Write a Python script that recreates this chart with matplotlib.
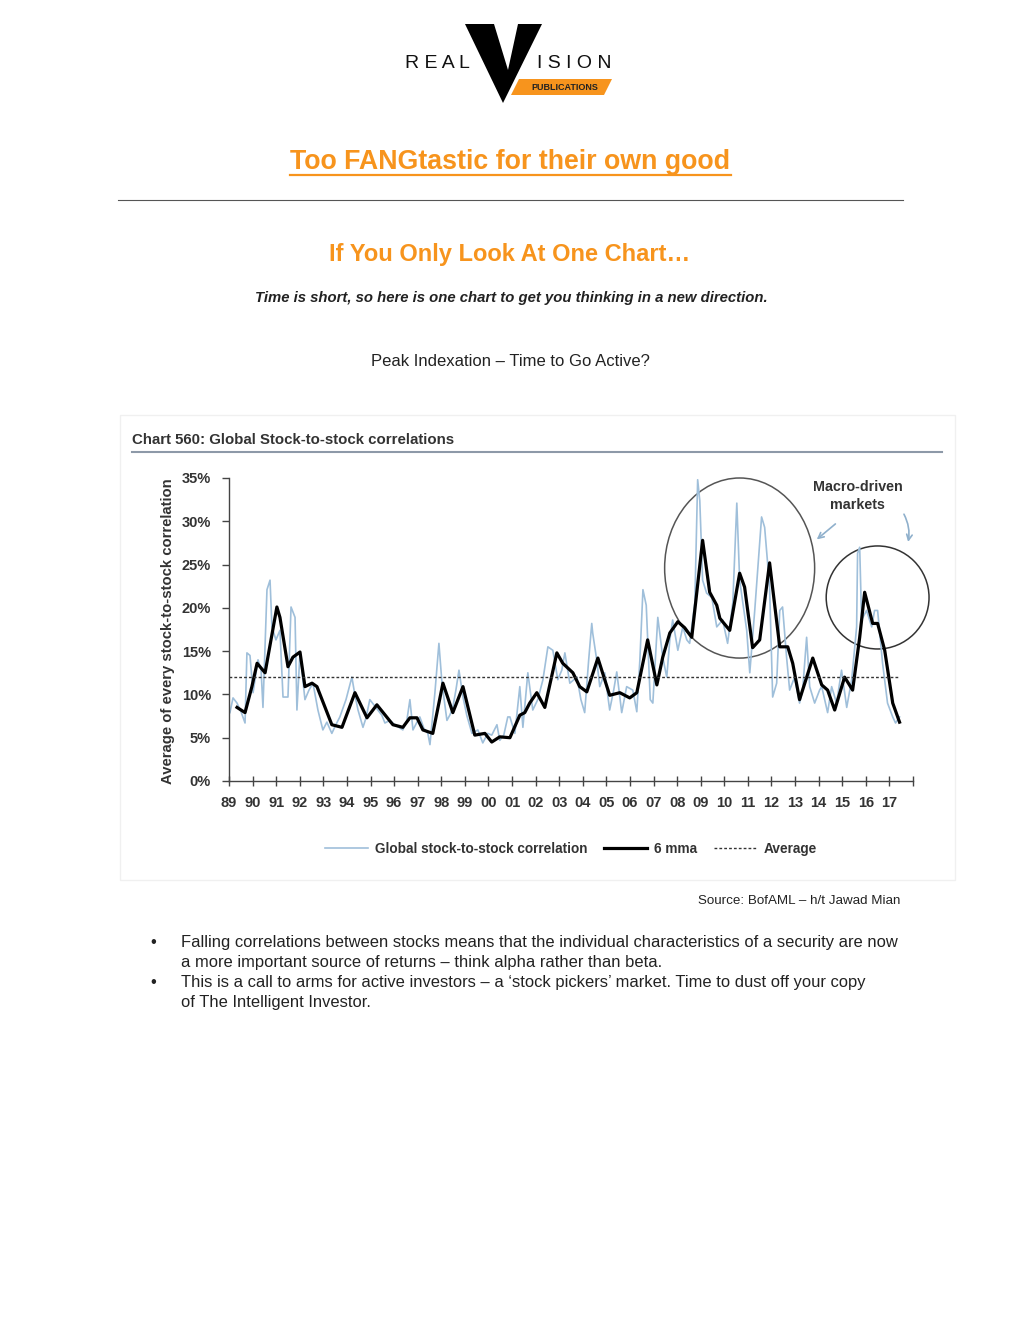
import numpy as np
import matplotlib.pyplot as plt
from matplotlib.patches import Ellipse, Polygon, Rectangle
from matplotlib.lines import Line2D

# Datos: correlacion global stock-to-stock (mensual)
anios_corr = [1989.04, 1989.17, 1989.34, 1989.51, 1989.68, 1989.76, 1989.89, 1990.02, 1990.23, 1990.36,
              1990.44, 1990.61, 1990.74, 1990.82, 1990.99, 1991.16, 1991.29, 1991.50, 1991.63, 1991.80,
              1991.88, 1992.01, 1992.22, 1992.39, 1992.56, 1992.77, 1992.98, 1993.15, 1993.36, 1993.53,
              1993.70, 1993.96, 1994.21, 1994.34, 1994.47, 1994.68, 1994.81, 1994.97, 1995.14, 1995.31,
              1995.48, 1995.61, 1995.82, 1996.03, 1996.20, 1996.37, 1996.54, 1996.67, 1996.80, 1996.97,
              1997.09, 1997.26, 1997.43, 1997.52, 1997.73, 1997.90, 1998.03, 1998.24, 1998.36, 1998.49,
              1998.62, 1998.75, 1998.92, 1999.08, 1999.30, 1999.55, 1999.76, 1999.97, 2000.14, 2000.36,
              2000.48, 2000.65, 2000.82, 2000.91, 2001.12, 2001.33, 2001.46, 2001.67, 2001.88, 2002.09,
              2002.31, 2002.52, 2002.73, 2002.94, 2003.11, 2003.24, 2003.45, 2003.62, 2003.75, 2003.92,
              2004.08, 2004.25, 2004.38, 2004.42, 2004.59, 2004.72, 2004.93, 2005.14, 2005.31, 2005.44,
              2005.65, 2005.86, 2006.12, 2006.29, 2006.42, 2006.55, 2006.69, 2006.86, 2006.97, 2007.18,
              2007.39, 2007.56, 2007.69, 2007.81, 2008.03, 2008.24, 2008.41, 2008.53, 2008.75, 2008.87,
              2008.96, 2009.08, 2009.25, 2009.47, 2009.68, 2009.93, 2010.14, 2010.36, 2010.53, 2010.65,
              2010.95, 2011.08, 2011.29, 2011.58, 2011.71, 2011.92, 2012.05, 2012.22, 2012.35, 2012.47,
              2012.64, 2012.77, 2012.98, 2013.19, 2013.32, 2013.49, 2013.62, 2013.83, 2014.04, 2014.13,
              2014.38, 2014.55, 2014.76, 2014.97, 2015.19, 2015.40, 2015.61, 2015.65, 2015.74, 2015.82,
              2016.03, 2016.25, 2016.37, 2016.50, 2016.71, 2016.92, 2017.14, 2017.26, 2017.43]
corr = [7.9, 9.6, 9.0, 8.0, 6.7, 14.8, 14.5, 10.2, 14.0, 12.8,
        8.5, 22.1, 23.2, 17.8, 16.3, 17.4, 9.7, 9.7, 20.1, 18.9,
        8.2, 14.8, 9.4, 10.5, 11.3, 8.2, 5.9, 6.8, 5.5, 6.5,
        7.4, 9.4, 12.0, 9.9, 8.2, 6.2, 7.3, 9.4, 8.8, 8.2,
        7.6, 6.7, 7.0, 6.5, 6.2, 5.9, 7.0, 9.4, 5.9, 6.8,
        7.4, 6.1, 5.5, 4.2, 10.2, 15.9, 11.3, 7.0, 7.6, 8.5,
        10.5, 12.8, 9.7, 7.6, 5.5, 5.9, 4.4, 5.5, 5.3, 6.5,
        4.7, 5.3, 7.4, 7.4, 5.5, 10.9, 6.2, 12.5, 8.2, 9.4,
        11.7, 15.5, 15.1, 11.7, 12.8, 14.8, 11.3, 11.7, 12.0, 9.4,
        7.9, 14.0, 18.2, 17.1, 14.0, 10.9, 12.5, 8.2, 10.5, 12.6,
        7.9, 10.9, 10.5, 8.0, 14.0, 22.1, 20.3, 9.4, 9.0, 18.9,
        14.3, 12.0, 16.3, 18.6, 15.1, 17.8, 16.3, 15.9, 20.6, 34.8,
        32.4, 23.2, 21.7, 21.2, 17.8, 18.6, 15.9, 20.6, 32.1, 23.2,
        17.4, 12.5, 19.7, 30.5, 29.3, 22.4, 9.7, 11.3, 19.7, 20.1,
        14.3, 10.5, 12.0, 9.0, 10.5, 16.6, 10.9, 9.0, 10.5, 10.9,
        7.9, 10.9, 9.0, 12.8, 8.5, 11.7, 17.8, 26.3, 27.0, 18.6,
        19.7, 17.8, 19.7, 19.7, 13.6, 9.0, 7.4, 6.7, 7.4]

# Media movil de 6 meses
anios_mma = [1989.34, 1989.68, 1989.97, 1990.19, 1990.53, 1991.03, 1991.16, 1991.50, 1991.71, 1992.01,
             1992.22, 1992.52, 1992.73, 1993.36, 1993.79, 1994.34, 1994.85, 1995.27, 1995.95, 1996.37,
             1996.67, 1996.97, 1997.22, 1997.64, 1998.07, 1998.49, 1998.92, 1999.42, 1999.85, 2000.14,
             2000.48, 2000.91, 2001.33, 2001.54, 2001.75, 2002.05, 2002.39, 2002.90, 2003.15, 2003.58,
             2003.87, 2004.17, 2004.64, 2005.14, 2005.57, 2005.99, 2006.29, 2006.75, 2007.14, 2007.39,
             2007.69, 2008.03, 2008.32, 2008.62, 2009.08, 2009.38, 2009.68, 2009.81, 2010.23, 2010.65,
             2010.86, 2011.20, 2011.50, 2011.92, 2012.35, 2012.69, 2012.90, 2013.19, 2013.75, 2014.13,
             2014.38, 2014.68, 2015.10, 2015.44, 2015.74, 2015.95, 2016.29, 2016.50, 2016.80, 2017.14,
             2017.43]
mma = [8.5, 7.9, 10.9, 13.6, 12.5, 20.1, 18.9, 13.2, 14.3, 14.9,
       10.9, 11.3, 10.9, 6.5, 6.2, 10.2, 7.3, 8.8, 6.5, 6.2,
       7.3, 7.3, 5.9, 5.5, 11.3, 7.9, 10.9, 5.3, 5.5, 4.5,
       5.1, 5.0, 7.6, 7.9, 9.0, 10.2, 8.5, 14.8, 13.6, 12.5,
       10.9, 10.3, 14.2, 9.9, 10.2, 9.6, 10.2, 16.3, 11.1, 14.3,
       17.1, 18.4, 17.7, 16.6, 27.8, 21.8, 20.3, 18.8, 17.4, 24.0,
       22.4, 15.4, 16.3, 25.2, 15.5, 15.5, 13.6, 9.4, 14.2, 11.1,
       10.5, 8.2, 12.0, 10.5, 16.6, 21.8, 18.2, 18.2, 15.1, 9.0,
       6.8]

promedio = 12.0
anios_ticks = list(range(1989, 2018))
etiquetas_x = ['%02d' % (a % 100) for a in anios_ticks]
valores_y = [0, 5, 10, 15, 20, 25, 30, 35]
etiquetas_y = ['%d%%' % v for v in valores_y]

naranja = '#F7941D'
gris_txt = '#333333'
W, H = 1020, 1320

def fx(x):
    return x / W

def fy(y):
    return 1 - y / H

plt.rcParams['font.family'] = ['Liberation Sans', 'DejaVu Sans']

fig = plt.figure(figsize=(10.2, 13.2), dpi=100)

# Logo
fig.text(fx(437), fy(63), 'R E A L', fontsize=14, ha='center', va='center', color='#111111')
fig.text(fx(574), fy(63), 'I S I O N', fontsize=14, ha='center', va='center', color='#111111')
fig.patches.append(Polygon([(fx(519), fy(79)), (fx(612), fy(79)), (fx(604), fy(95)), (fx(511), fy(95))],
                           closed=True, facecolor=naranja, edgecolor='none', transform=fig.transFigure))
fig.text(fx(565), fy(87), 'PUBLICATIONS', fontsize=6.5, fontweight='bold', ha='center', va='center', color='#222222')
fig.patches.append(Polygon([(fx(465), fy(24)), (fx(494), fy(24)), (fx(508), fy(70)), (fx(518), fy(24)),
                            (fx(542), fy(24)), (fx(503), fy(103))],
                           closed=True, facecolor='black', edgecolor='none', transform=fig.transFigure))

# Titulos de la pagina
fig.text(fx(510), fy(162), 'Too FANGtastic for their own good', fontsize=19.3, fontweight='bold',
         color=naranja, ha='center', va='center')
fig.add_artist(Line2D([fx(290), fx(731)], [fy(175), fy(175)], color=naranja, lw=1.6))
fig.add_artist(Line2D([fx(118), fx(903)], [fy(200), fy(200)], color='#555555', lw=0.8))
fig.text(fx(510), fy(254), 'If You Only Look At One Chart…', fontsize=17, fontweight='bold',
         color=naranja, ha='center', va='center')
fig.text(fx(511), fy(298), 'Time is short, so here is one chart to get you thinking in a new direction.',
         fontsize=10.75, fontweight='bold', fontstyle='italic', color='#222222', ha='center', va='center')
fig.text(fx(510), fy(361), 'Peak Indexation – Time to Go Active?', fontsize=12, color='#222222',
         ha='center', va='center')

# Marco del grafico
fig.patches.append(Rectangle((fx(120), fy(880)), fx(955) - fx(120), fy(415) - fy(880),
                             facecolor='none', edgecolor='#f0f0f0', lw=1, transform=fig.transFigure))
fig.text(fx(132), fy(440), 'Chart 560: Global Stock-to-stock correlations',
         fontsize=10.8, fontweight='bold', color=gris_txt, ha='left', va='center')
fig.add_artist(Line2D([fx(132), fx(942)], [fy(452), fy(452)], color='#8d99a8', lw=1.5))

ax = fig.add_axes([fx(229), fy(781), fx(913) - fx(229), fy(478) - fy(781)])
ax.plot(anios_corr, corr, color='#9fbfda', lw=1.2, label='Global stock-to-stock correlation')
ax.plot(anios_mma, mma, color='black', lw=2.3, solid_joinstyle='round', label='6 mma')
ax.axhline(promedio, xmin=0, xmax=(2017.4 - 1989) / 29, color=gris_txt, lw=1.0,
           linestyle=(0, (2, 1.5)), label='Average')

ax.set_xlim(1989, 2018)
ax.set_ylim(0, 35)
ax.set_xticks(anios_ticks + [2018])
ax.set_xticklabels(etiquetas_x + [''], fontsize=10.5, fontweight='bold', color=gris_txt)
ax.set_yticks(valores_y)
ax.set_yticklabels(etiquetas_y, fontsize=10.5, fontweight='bold', color=gris_txt)
ax.tick_params(axis='x', direction='inout', length=7, width=1, color='#444444', pad=7)
ax.tick_params(axis='y', direction='out', length=5, width=1, color='#444444', pad=8)
for lado in ['top', 'right']:
    ax.spines[lado].set_visible(False)
for lado in ['left', 'bottom']:
    ax.spines[lado].set_color('#444444')
    ax.spines[lado].set_linewidth(1)

fig.text(fx(168), fy(631), 'Average of every stock-to-stock correlation', rotation=90,
         fontsize=10.7, fontweight='bold', color=gris_txt, ha='center', va='center')

# Anotaciones
ax.add_patch(Ellipse((2010.65, 24.6), 6.36, 20.8, fill=False, edgecolor='#555555', lw=1.1, clip_on=False))
ax.add_patch(Ellipse((2016.5, 21.2), 4.36, 11.9, fill=False, edgecolor=gris_txt, lw=1.1, clip_on=False))
ax.text(2015.65, 32.9, 'Macro-driven\nmarkets', fontsize=10.3, fontweight='bold',
        color=gris_txt, ha='center', va='center', linespacing=1.4)
ax.annotate('', xy=(2013.83, 27.7), xytext=(2014.8, 29.9),
            arrowprops=dict(arrowstyle='->', color='#8fb0cc', lw=1.2), annotation_clip=False)
ax.annotate('', xy=(2017.77, 27.3), xytext=(2017.56, 31.1),
            arrowprops=dict(arrowstyle='->', color='#8fb0cc', lw=1.2, connectionstyle='arc3,rad=-0.2'),
            annotation_clip=False)

leg = ax.legend(loc='center', bbox_to_anchor=(0.5, -0.224), ncol=3, frameon=False,
                prop={'size': 9.8, 'weight': 'bold'}, handlelength=3.2,
                columnspacing=1.2, handletextpad=0.5)
for t in leg.get_texts():
    t.set_color(gris_txt)

# Fuente y vinetas
fig.text(fx(900), fy(901), 'Source: BofAML – h/t Jawad Mian', fontsize=9.6, color='#222222',
         ha='right', va='center')
lineas = [
    (943, True, 'Falling correlations between stocks means that the individual characteristics of a security are now'),
    (963, False, 'a more important source of returns – think alpha rather than beta.'),
    (983, True, 'This is a call to arms for active investors – a ‘stock pickers’ market. Time to dust off your copy'),
    (1002, False, 'of The Intelligent Investor.'),
]
for y, vineta, texto in lineas:
    if vineta:
        fig.text(fx(153), fy(y), '•', fontsize=11.9, color='#222222', ha='center', va='center')
    fig.text(fx(181), fy(y), texto, fontsize=11.9, color='#222222', ha='left', va='center')

plt.savefig('out.png', dpi=100, facecolor='white')
